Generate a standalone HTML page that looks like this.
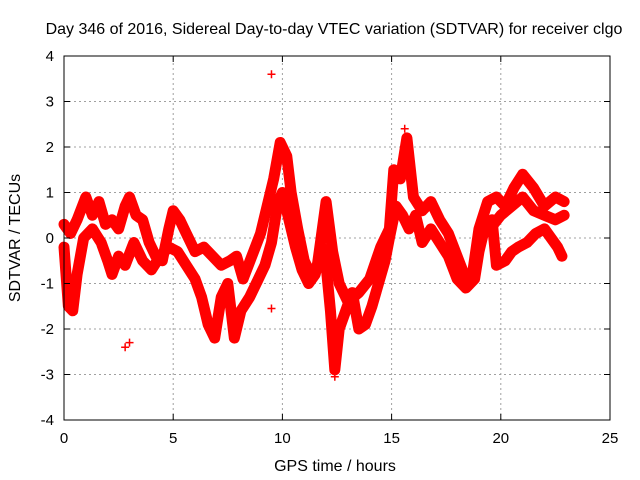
<!DOCTYPE html>
<html><head><meta charset="utf-8"><style>
body{margin:0;background:#fff}
svg{display:block;font-family:"Liberation Sans",sans-serif}
</style></head><body>
<svg id="chart" width="640" height="480" viewBox="0 0 640 480">
<rect width="640" height="480" fill="#fff"/>
<g id="grid"></g><g id="marks"></g><g id="axes"></g>
<text x="334" y="34" font-size="16" text-anchor="middle">Day 346 of 2016, Sidereal Day-to-day VTEC variation (SDTVAR) for receiver clgo</text>
<text x="335" y="471" font-size="16" text-anchor="middle">GPS time / hours</text>
<text transform="translate(20,238) rotate(-90)" font-size="16" text-anchor="middle">SDTVAR / TECUs</text>
</svg>
<script>
const xTicks=[0,5,10,15,20,25];
const yTicks=[-4,-3,-2,-1,0,1,2,3,4];
const trackA=[[0,0.3],[0.3,0.1],[0.6,0.4],[1.0,0.9],[1.3,0.5],[1.6,0.8],[1.9,0.3],[2.2,0.4],[2.5,0.2],[2.8,0.7],[3.0,0.9],[3.3,0.5],[3.6,0.4],[3.9,-0.1],[4.2,-0.4],[4.5,-0.5],[4.8,0.2],[5.0,0.6],[5.3,0.4],[5.6,0.1],[6.0,-0.3],[6.4,-0.2],[6.8,-0.4],[7.2,-0.6],[7.6,-0.5],[7.9,-0.4],[8.2,-0.9],[8.6,-0.4],[9.0,0.1],[9.3,0.7],[9.6,1.3],[9.9,2.1],[10.2,1.8],[10.4,1.0],[10.7,0.2],[11.0,-0.5],[11.3,-0.8],[11.6,-0.6],[12.0,0.8],[12.3,-0.3],[12.6,-1.0],[13.0,-1.4],[13.5,-1.2],[14.0,-0.9],[14.5,-0.2],[14.9,0.2],[15.1,1.5],[15.4,1.3],[15.7,2.2],[16.0,0.9],[16.4,0.6],[16.8,0.8],[17.2,0.4],[17.6,0.1],[18.0,-0.4],[18.4,-0.9],[18.7,-0.8],[19.0,0.2],[19.4,0.8],[19.8,0.9],[20.2,0.7],[20.6,1.1],[21.0,1.4],[21.5,1.1],[22.0,0.7],[22.5,0.9],[22.9,0.8]];
const trackB=[[0,-0.2],[0.2,-1.5],[0.4,-1.6],[0.6,-0.8],[0.9,0.0],[1.3,0.2],[1.7,-0.1],[2.0,-0.5],[2.2,-0.8],[2.5,-0.4],[2.8,-0.6],[3.2,-0.1],[3.6,-0.5],[4.0,-0.7],[4.4,-0.4],[4.8,-0.2],[5.2,-0.3],[5.6,-0.6],[6.0,-0.9],[6.3,-1.3],[6.6,-1.9],[6.9,-2.2],[7.2,-1.3],[7.5,-1.0],[7.8,-2.2],[8.1,-1.6],[8.5,-1.3],[8.9,-0.9],[9.2,-0.6],[9.5,-0.1],[9.8,0.8],[10.0,1.0],[10.3,0.4],[10.6,-0.2],[10.9,-0.7],[11.2,-1.0],[11.5,-0.8],[11.8,-0.2],[12.0,-0.6],[12.2,-1.6],[12.4,-2.9],[12.6,-2.0],[12.9,-1.6],[13.2,-1.2],[13.5,-2.0],[13.8,-1.9],[14.1,-1.5],[14.4,-1.0],[14.7,-0.5],[14.9,0.0],[15.2,0.7],[15.5,0.5],[15.8,0.2],[16.1,0.5],[16.4,-0.1],[16.8,0.2],[17.2,-0.1],[17.6,-0.4],[18.0,-0.9],[18.4,-1.1],[18.8,-0.9],[19.0,-0.3],[19.3,0.3],[19.6,0.4],[19.8,-0.6],[20.2,-0.5],[20.5,-0.3],[20.8,-0.2],[21.2,-0.1],[21.6,0.1],[22.0,0.2],[22.3,0.0],[22.6,-0.2],[22.8,-0.4]];
const trackC=[[19.5,0.2],[20,0.5],[20.5,0.7],[21,0.9],[21.5,0.6],[22,0.5],[22.5,0.4],[22.9,0.5]];
const outliers=[[9.5,3.6],[9.5,-1.55],[2.8,-2.4],[3.0,-2.3],[12.4,-3.05],[15.6,2.4]];
const X0=64,X1=610,Y0=420,Y1=56;
const sx=v=>X0+(v-0)/(25-0)*(X1-X0);
const sy=v=>Y0-(v+4)/8*(Y0-Y1);
const NS='http://www.w3.org/2000/svg';
function mk(tag,parent,attrs){const e=document.createElementNS(NS,tag);for(const k in attrs)e.setAttribute(k,attrs[k]);parent.appendChild(e);return e;}
const grid=document.getElementById('grid'),marks=document.getElementById('marks'),axes=document.getElementById('axes');
xTicks.forEach(t=>{
 if(t>0&&t<25){const g=mk('line',grid,{x1:sx(t),x2:sx(t),y1:Y0,y2:Y1,stroke:'#a0a0a0','stroke-dasharray':'2,3'});
 
 }
 const l=mk('text',axes,{x:sx(t),y:Y0+23,'font-size':15,'text-anchor':'middle'});l.textContent=t;
 
 
 mk('line',axes,{x1:sx(t),x2:sx(t),y1:Y0,y2:Y0-6,stroke:'#000'});
 mk('line',axes,{x1:sx(t),x2:sx(t),y1:Y1,y2:Y1+6,stroke:'#000'});
});
yTicks.forEach(t=>{
 if(t>-4&&t<4){const g=mk('line',grid,{x1:X0,x2:X1,y1:sy(t),y2:sy(t),stroke:'#a0a0a0','stroke-dasharray':'2,3'});
 
 }
 const l=mk('text',axes,{x:X0-10,y:sy(t)+5,'font-size':15,'text-anchor':'end'});l.textContent=t;
 
 
 mk('line',axes,{x1:X0,x2:X0+6,y1:sy(t),y2:sy(t),stroke:'#000'});
 mk('line',axes,{x1:X1,x2:X1-6,y1:sy(t),y2:sy(t),stroke:'#000'});
});
const fr=mk('rect',axes,{x:X0,y:Y1,width:X1-X0,height:Y0-Y1,fill:'none',stroke:'#000'});


function plus(x,y){const d=`M${sx(x)-4},${sy(y)}h8M${sx(x)},${sy(y)-4}v8`;const p=mk('path',marks,{d:d,stroke:'#f00','stroke-width':1.5});
 
 }
[[trackA,'track-a'],[trackB,'track-b'],[trackC,'track-c']].forEach(([tr,nm])=>{
 const pl=mk('polyline',marks,{points:tr.map(p=>sx(p[0])+','+sy(p[1])).join(' '),fill:'none',stroke:'#f00','stroke-width':11,'stroke-linejoin':'round','stroke-linecap':'round'});
 
 
 tr.forEach(p=>plus(p[0],p[1]));
});
outliers.forEach(p=>plus(p[0],p[1]));
</script>
</body></html>
